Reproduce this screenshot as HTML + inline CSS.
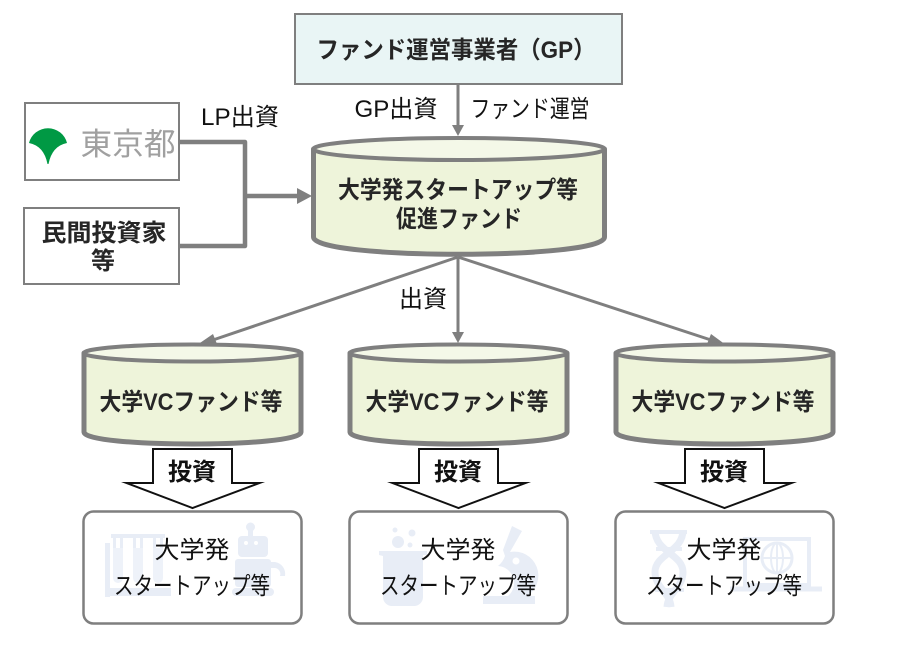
<!DOCTYPE html>
<html lang="ja"><head><meta charset="utf-8"><style>
html,body{margin:0;padding:0;background:#fff}
svg{display:block}
text{font-family:"Liberation Sans","Noto Sans CJK JP",sans-serif;text-anchor:middle}
.b{font-weight:700;fill:#262626;font-size:24px}
.r{fill:#111;font-size:24px}
</style></head><body>
<svg width="905" height="652" viewBox="0 0 905 652" xmlns="http://www.w3.org/2000/svg">
<defs>
<g id="cyl">
<path d="M-108.500 10 V 89 C-108.500 105 108.500 105 108.500 89 V 10 Z" fill="#eef4da" stroke="#7f7f7f" stroke-width="5" stroke-linejoin="round"/>
<ellipse cx="0" cy="10" rx="108.500" ry="8.500" fill="#f4f8e8" stroke="#7f7f7f" stroke-width="4"/>
</g>
<g id="barr">
<path d="M-39.500 0 V34 H-66 L0 59 L67 34 H39.500 V0 Z" fill="#fff" stroke="#111" stroke-width="2" stroke-miterlimit="10"/>
</g>
</defs>

<!-- GP box -->
<rect x="295" y="14" width="327" height="70" fill="#e9f5f5" stroke="#7f7f7f" stroke-width="2"/>
<text class="b" x="456" y="58" textLength="279" lengthAdjust="spacingAndGlyphs">ファンド運営事業者（GP）</text>

<!-- Tokyo -->
<rect x="25" y="103" width="154" height="77" fill="#fff" stroke="#7f7f7f" stroke-width="2"/>
<path d="M29 143 A19.500 19 0 0 1 67 143 Q52 146 48.500 164 H47.500 Q44 146 29 143 Z" fill="#009944"/>
<text x="128" y="155" style="font-size:31px;fill:#a0a0a0" textLength="95" lengthAdjust="spacingAndGlyphs">東京都</text>

<!-- investors -->
<rect x="24" y="208" width="155" height="76" fill="#fff" stroke="#7f7f7f" stroke-width="2"/>
<text class="b" x="104" y="241" textLength="125" lengthAdjust="spacingAndGlyphs">民間投資家</text>
<text class="b" x="103" y="269">等</text>

<!-- elbow connectors -->
<path d="M179 142 H245 V246 H179" fill="none" stroke="#7f7f7f" stroke-width="4.500" stroke-linejoin="round"/>
<path d="M245 196 H300" fill="none" stroke="#7f7f7f" stroke-width="4.500"/>
<path d="M297 188 L312 196 L297 204 Z" fill="#7f7f7f"/>

<text class="r" x="240" y="125" textLength="78" lengthAdjust="spacingAndGlyphs">LP出資</text>
<text class="r" x="396" y="117" textLength="83" lengthAdjust="spacingAndGlyphs">GP出資</text>
<text class="r" x="530" y="117" textLength="119" lengthAdjust="spacingAndGlyphs">ファンド運営</text>

<!-- GP to fund -->
<path d="M458 84 V128" stroke="#7f7f7f" stroke-width="3" fill="none"/>
<path d="M452 125 H464 L458 136 Z" fill="#7f7f7f"/>

<!-- fund to VC -->
<path d="M458 257 L210 341" stroke="#7f7f7f" stroke-width="3" fill="none"/>
<path d="M213 334 L217 344 L197 345 Z" fill="#7f7f7f"/>
<path d="M458 257 V333" stroke="#7f7f7f" stroke-width="3" fill="none"/>
<path d="M452 332 H464 L458 343 Z" fill="#7f7f7f"/>
<path d="M458 257 L714 341" stroke="#7f7f7f" stroke-width="3" fill="none"/>
<path d="M711 334 L707 344 L726 345 Z" fill="#7f7f7f"/>
<text class="r" x="423" y="307">出資</text>

<!-- main cylinder -->
<path d="M313.500 149 V 237 C313.500 260 604.500 260 604.500 237 V 149 Z" fill="#eef4da" stroke="#7f7f7f" stroke-width="5" stroke-linejoin="round"/>
<ellipse cx="459" cy="149" rx="145.500" ry="11" fill="#f4f8e8" stroke="#7f7f7f" stroke-width="4"/>
<text class="b" x="458" y="198" textLength="240" lengthAdjust="spacingAndGlyphs">大学発スタートアップ等</text>
<text class="b" x="459" y="227" textLength="126" lengthAdjust="spacingAndGlyphs">促進ファンド</text>

<!-- VC cylinders -->
<use href="#cyl" x="192.500" y="343"/>
<use href="#cyl" x="458.500" y="343"/>
<use href="#cyl" x="724.500" y="343"/>
<text class="b" x="191" y="410" textLength="183" lengthAdjust="spacingAndGlyphs">大学VCファンド等</text>
<text class="b" x="457" y="410" textLength="183" lengthAdjust="spacingAndGlyphs">大学VCファンド等</text>
<text class="b" x="723" y="410" textLength="183" lengthAdjust="spacingAndGlyphs">大学VCファンド等</text>

<!-- block arrows -->
<use href="#barr" x="192.500" y="449"/>
<use href="#barr" x="458.500" y="449"/>
<use href="#barr" x="724.500" y="449"/>
<text class="b" x="192" y="480" style="fill:#111">投資</text>
<text class="b" x="458" y="480" style="fill:#111">投資</text>
<text class="b" x="724" y="480" style="fill:#111">投資</text>

<!-- rounded boxes -->
<rect x="83.500" y="511.500" width="218" height="112" rx="10" fill="#fff" stroke="#7f7f7f" stroke-width="2.500"/>
<rect x="349.500" y="511.500" width="218" height="112" rx="10" fill="#fff" stroke="#7f7f7f" stroke-width="2.500"/>
<rect x="615.500" y="511.500" width="218" height="112" rx="10" fill="#fff" stroke="#7f7f7f" stroke-width="2.500"/>

<!-- icons 1 -->
<g fill="#e8edf6">
<rect x="105" y="543" width="5" height="54"/>
<rect x="105" y="588" width="66" height="8"/>
<rect x="111" y="534" width="54" height="4"/>
<path d="M113 538 h3 v10 h-3z M120 538 h3 v10 h-3z M133 538 h3 v10 h-3z M140 538 h3 v10 h-3z M153 538 h3 v10 h-3z M160 538 h3 v10 h-3z"/>
<path d="M113 548 h10 v30 a5 5 0 0 1 -10 0z M133 548 h10 v30 a5 5 0 0 1 -10 0z M153 548 h10 v30 a5 5 0 0 1 -10 0z" fill="#eef2f9"/>
<rect x="248" y="530" width="5" height="7"/><circle cx="250.500" cy="527" r="4.500"/>
<rect x="238" y="536" width="30" height="21" rx="4"/>
<rect x="235" y="559" width="36" height="28" rx="3"/>
<path d="M270 562 h5 a12 12 0 0 1 10 14 l-5 0 a6 6 0 0 0 -5 -8 h-5 z"/>
<rect x="232" y="588" width="42" height="8" rx="4"/>
</g>
<g fill="#fff"><circle cx="246" cy="543" r="2"/><circle cx="256" cy="543" r="2"/></g>

<!-- icons 2 -->
<g fill="#e8edf6">
<path d="M379 551 H427 V555 H423 V597 a9 9 0 0 1 -9 9 H392 a9 9 0 0 1 -9 -9 V556 L379 555 Z"/>
<circle cx="398" cy="542" r="6"/><circle cx="412" cy="533" r="3.500"/><circle cx="395" cy="530" r="2.500"/><circle cx="410" cy="545" r="2.500"/>
<path d="M483 596 H535 V604 H483 Z"/>
<path d="M512 526 L522 531 L510 552 A24 24 0 0 1 527 596 H508 A17 17 0 0 0 498 566 Q503 562 505 556 L503 550 Z"/>
<circle cx="516" cy="561" r="8"/>
</g>
<circle cx="516" cy="561" r="3.500" fill="#fff"/>

<!-- icons 3 -->
<g fill="none" stroke="#e8edf6" stroke-width="7">
<path d="M655 530 C655 552 683 554 683 572 C683 588 668 592 667 607"/>
<path d="M683 530 C683 552 655 554 655 572 C655 588 670 592 671 607"/>
<path d="M650 532 H687 M656 549 H682 M655 590 H684" stroke-width="4"/>
</g>
<g fill="none" stroke="#e8edf6" stroke-width="4">
<path d="M745 539 H809 V585 H745 Z"/>
<path d="M730 589 H822" stroke-width="5"/>
<circle cx="777" cy="558" r="15" stroke-width="3"/>
<ellipse cx="777" cy="558" rx="6" ry="15" stroke-width="2"/>
<path d="M762 558 H792 M777 543 V573" stroke-width="2"/>
</g>

<!-- box text -->
<text class="r" x="192" y="558" textLength="75" lengthAdjust="spacingAndGlyphs">大学発</text>
<text class="r" x="192" y="594" textLength="156" lengthAdjust="spacingAndGlyphs">スタートアップ等</text>
<text class="r" x="458" y="558" textLength="75" lengthAdjust="spacingAndGlyphs">大学発</text>
<text class="r" x="458" y="594" textLength="156" lengthAdjust="spacingAndGlyphs">スタートアップ等</text>
<text class="r" x="724" y="558" textLength="75" lengthAdjust="spacingAndGlyphs">大学発</text>
<text class="r" x="724" y="594" textLength="156" lengthAdjust="spacingAndGlyphs">スタートアップ等</text>
</svg>
</body></html>
